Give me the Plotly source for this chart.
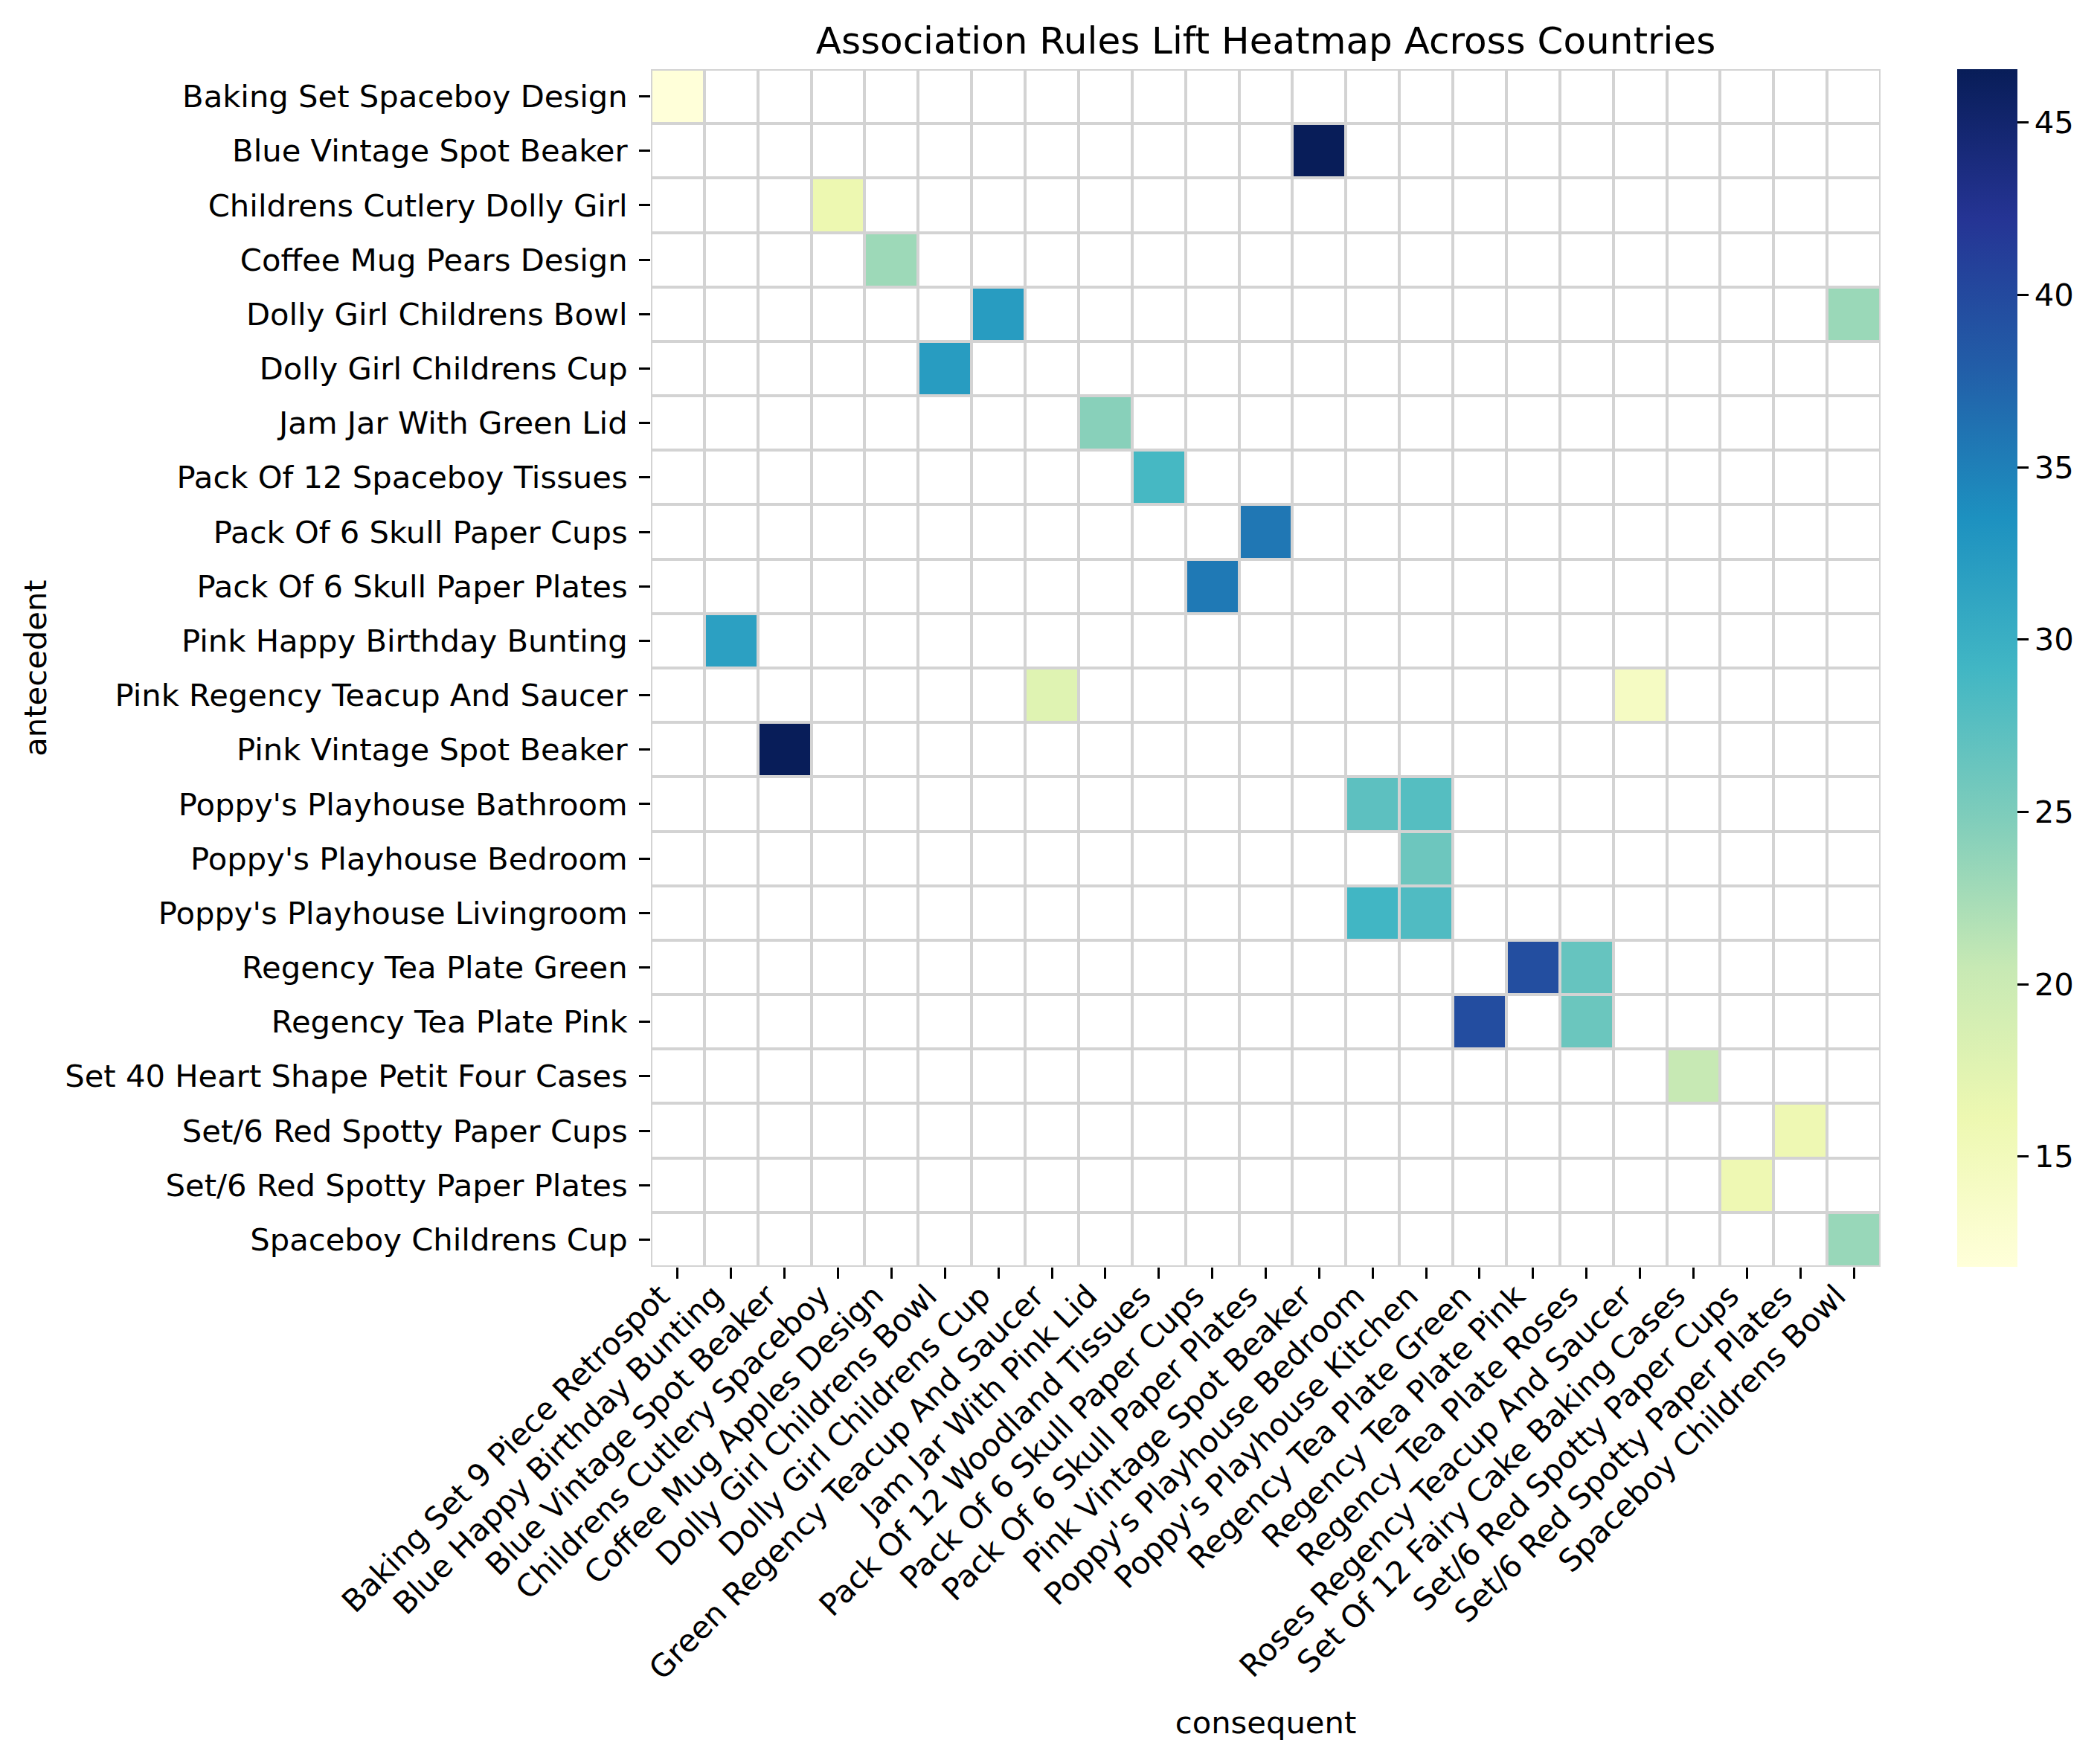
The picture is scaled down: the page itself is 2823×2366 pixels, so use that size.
import plotly.graph_objects as go

antecedents = ["Baking Set Spaceboy Design", "Blue Vintage Spot Beaker", "Childrens Cutlery Dolly Girl",
    "Coffee Mug Pears Design", "Dolly Girl Childrens Bowl", "Dolly Girl Childrens Cup", "Jam Jar With Green Lid",
    "Pack Of 12 Spaceboy Tissues", "Pack Of 6 Skull Paper Cups", "Pack Of 6 Skull Paper Plates",
    "Pink Happy Birthday Bunting", "Pink Regency Teacup And Saucer", "Pink Vintage Spot Beaker",
    "Poppy's Playhouse Bathroom", "Poppy's Playhouse Bedroom", "Poppy's Playhouse Livingroom",
    "Regency Tea Plate Green", "Regency Tea Plate Pink", "Set 40 Heart Shape Petit Four Cases",
    "Set/6 Red Spotty Paper Cups", "Set/6 Red Spotty Paper Plates", "Spaceboy Childrens Cup"]
consequents = ["Baking Set 9 Piece Retrospot", "Blue Happy Birthday Bunting", "Blue Vintage Spot Beaker",
    "Childrens Cutlery Spaceboy", "Coffee Mug Apples Design", "Dolly Girl Childrens Bowl", "Dolly Girl Childrens Cup",
    "Green Regency Teacup And Saucer", "Jam Jar With Pink Lid", "Pack Of 12 Woodland Tissues",
    "Pack Of 6 Skull Paper Cups", "Pack Of 6 Skull Paper Plates", "Pink Vintage Spot Beaker",
    "Poppy's Playhouse Bedroom", "Poppy's Playhouse Kitchen", "Regency Tea Plate Green", "Regency Tea Plate Pink",
    "Regency Tea Plate Roses", "Roses Regency Teacup And Saucer", "Set Of 12 Fairy Cake Baking Cases",
    "Set/6 Red Spotty Paper Cups", "Set/6 Red Spotty Paper Plates", "Spaceboy Childrens Bowl"]

rule_rows = [0, 1, 2, 3, 4, 4, 5, 6, 7, 8, 9, 10, 11, 11, 12, 13, 13, 14, 15, 15, 16, 16, 17, 17, 18, 19, 20, 21]
rule_cols = [0, 12, 3, 4, 6, 22, 5, 8, 9, 11, 10, 1, 7, 18, 2, 13, 14, 14, 13, 14, 16, 17, 15, 17, 19, 21, 20, 22]
rule_lift = [11.8, 46.5, 16.1, 23.0, 32.2, 23.2, 32.2, 24.3, 28.8, 35.7, 35.6, 31.7, 17.7, 14.2, 46.5,
             27.2, 27.75, 26.1, 29.2, 28.15, 39.5, 26.55, 39.6, 26.2, 20.5, 15.9, 15.9, 23.3]

ylgnbu = ["#ffffd9", "#edf8b1", "#c7e9b4", "#7fcdbb", "#41b6c4", "#1d91c0", "#225ea8", "#253494", "#081d58"]
FONT = "DejaVu Sans"

z = [[None] * len(consequents) for _ in antecedents]
for r, c, v in zip(rule_rows, rule_cols, rule_lift):
    z[r][c] = v
blank = [[0] * len(consequents) for _ in antecedents]

L, R, T, B = 875, 2528, 93, 1703
W, H = 2823, 2366
TICK_FONT = dict(family=FONT, size=41.7, color="black")

fig = go.Figure()
fig.add_trace(go.Heatmap(z=blank, x=consequents, y=antecedents, xgap=4, ygap=4, showscale=False,
                         colorscale=[[0, "white"], [1, "white"]], hoverinfo="skip"))
fig.add_trace(go.Heatmap(z=z, x=consequents, y=antecedents, xgap=4, ygap=4, zmin=11.8, zmax=46.55,
                         colorscale=[[i / 8, c] for i, c in enumerate(ylgnbu)], hoverongaps=False,
                         colorbar=dict(x=(2631 - L) / (R - L), xanchor="left", xpad=0, ypad=0, thickness=81,
                                       thicknessmode="pixels", len=1, lenmode="fraction", y=0.5, yanchor="middle",
                                       outlinewidth=0, ticks="outside", ticklen=15, tickwidth=3, tickcolor="black",
                                       tickvals=[15, 20, 25, 30, 35, 40, 45], tickfont=TICK_FONT)))
fig.update_layout(
    width=W, height=H, autosize=False,
    margin=dict(l=L, r=W - R, t=T, b=H - B, pad=0),
    paper_bgcolor="white", plot_bgcolor="#d3d3d3",
    font=dict(family=FONT, color="black"),
    title=dict(text="Association Rules Lift Heatmap Across Countries", x=(L + R) / 2 / W, xanchor="center",
               y=1 - 54 / H, yanchor="middle", font=dict(family=FONT, size=50, color="black")),
    xaxis=dict(type="category", categoryorder="array", categoryarray=consequents, tickangle=-45, ticks="outside",
               ticklen=15, tickwidth=3, tickcolor="black", showgrid=False, zeroline=False, showline=False,
               automargin=False, ticklabelstandoff=-18, ticklabelshift=-23, tickfont=TICK_FONT,
               title=dict(text="consequent", standoff=34, font=TICK_FONT)),
    yaxis=dict(type="category", categoryorder="array", categoryarray=antecedents, autorange="reversed", ticks="outside",
               ticklen=15, tickwidth=3, tickcolor="black", showgrid=False, zeroline=False, showline=False,
               automargin=False, ticklabelstandoff=7, tickfont=TICK_FONT,
               title=dict(text="antecedent", standoff=11, font=TICK_FONT)),
)
fig.write_html("out.html", post_script="document.body.style.margin='0';", config={"displayModeBar": False})
